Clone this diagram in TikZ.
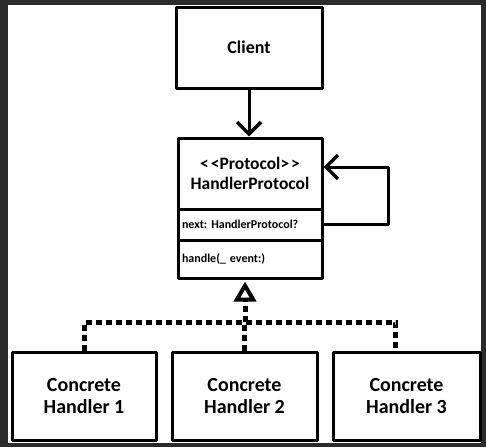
\documentclass[tikz,border=0pt]{standalone}
\usepackage{fontspec}
\setmainfont{Carlito}
\usetikzlibrary{arrows.meta}
\definecolor{fond}{HTML}{2B2B2B}
\frenchspacing
\tikzset{
	boite/.style={draw, line width=3pt, line join=round, rectangle, align=center, inner sep=2pt,
		font=\fontsize{18}{21}\selectfont\bfseries},
	ligne/.style={draw, line width=3pt, line join=round, rectangle, align=left, inner xsep=4pt,
		text width=136pt, font=\fontsize{12}{14}\selectfont\bfseries},
	fleche/.style={line width=3pt, line join=round, -{Straight Barb[length=12pt,width=24pt,line width=3.5pt]}},
	pointille/.style={line width=5pt, dash pattern=on 6pt off 4pt},
}
\begin{document}
\begin{tikzpicture}[x=1pt,y=-1pt]
	% Fond et cadre
	\fill[fond] (0,0) rectangle (486,447);
	\fill[white] (8,5) rectangle (481,443);
	\useasboundingbox (0,0) rectangle (486,447);
%
% Client
	\node[boite, minimum width=146pt, minimum height=81pt] (client) at (249,47.5) {Client};
% Protocole en trois cases
	\node[boite, minimum width=144pt, minimum height=71pt, font=\fontsize{17.5}{20}\selectfont\bfseries] (proto) at (250,173.5)
		{<\kern2pt<Protocol>\kern2pt>\\HandlerProtocol};
	\node[ligne, minimum height=31pt] (suivant) at (250,224.5) {next: HandlerProtocol?};
	\node[ligne, minimum height=38pt] (traiter) at (250,259) {handle(\_ event:)};
% Gestionnaires concrets
	\node[boite, minimum width=144pt, minimum height=88pt, font=\fontsize{20}{22}\selectfont\bfseries] (gest1) at (84,396) {Concrete\\Handler 1};
	\node[boite, minimum width=145pt, minimum height=88pt, font=\fontsize{20}{22}\selectfont\bfseries] (gest2) at (244.5,396) {Concrete\\Handler 2};
	\node[boite, minimum width=147pt, minimum height=88pt, font=\fontsize{20}{22}\selectfont\bfseries] (gest3) at (406.5,396) {Concrete\\Handler 3};
%
% Fleches
	\draw[fleche] (client.south) -- (client.south |- proto.north);
	\draw[fleche] (suivant.east) -- ++(65,0) |- ([yshift=6.5pt]proto.east);
% Heritage en pointille
	\coordinate (jonction) at (245,322);
	\draw[pointille] (gest1.north) |- (jonction) -| ([xshift=-11pt]gest3.north);
	\draw[pointille] (gest2.north) -- (gest2.north |- jonction);
	\draw[pointille, -{Triangle[open,length=20pt,width=22pt,line width=4pt]}, shorten >=2pt] (jonction) -- (jonction |- traiter.south);

\end{tikzpicture}
\end{document}
